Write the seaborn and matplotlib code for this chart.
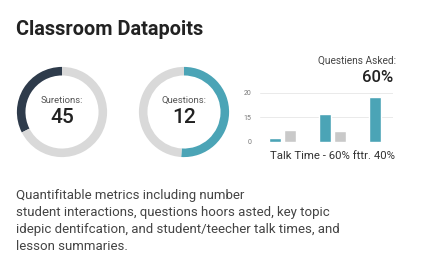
import matplotlib
matplotlib.use("Agg")
import matplotlib.pyplot as plt
import seaborn as sns
import pandas as pd
import numpy as np

# ---- data ----
donut_labels = ["Suretions:", "Questions:"]
donut_values = ["45", "12"]
donut_fractions = [0.325, 0.51]

bar_categories = ["A", "B", "C"]
teal_values = [1.6, 11.4, 18.4]
grey_values = [4.9, 4.5, np.nan]
ytick_positions = [0, 10, 20]
ytick_labels = ["0", "15", "20"]

title = "Classroom Datapoits"
chart_title = "Questiens Asked:"
chart_value = "60%"
chart_footer = "Talk Time - 60% fttr. 40%"
description = [
    "Quantifitable metrics including number",
    "student interactions, questions hoors asted, key topic",
    "idepic dentifcation, and student/teecher talk times, and",
    "lesson summaries.",
]

# ---- style ----
sns.set_theme(style="white")
plt.rcParams["font.family"] = ["Roboto", "DejaVu Sans"]

W, H = 424, 279
fig = plt.figure(figsize=(W / 100, H / 100), dpi=100)
fig.patch.set_facecolor("white")

def fx(x):
    return x / W

def fy(y):
    return 1 - y / H

def box(left, top, w, h):
    return [left / W, 1 - (top + h) / H, w / W, h / H]

DARK = "#2e3b4b"
TEAL = "#4ba4b6"
LIGHT = "#d9d9d9"

# title
fig.text(fx(16), fy(35), title, fontsize=14.3, fontweight="bold",
         color="#222222", va="baseline", ha="left")

# donuts
donut_specs = [
    (62, 112, DARK, True),
    (184, 112, TEAL, False),
]
R = 46
for (cx, cy, col, ccw), frac, lab, val in zip(donut_specs, donut_fractions,
                                              donut_labels, donut_values):
    ax = fig.add_axes(box(cx - R, cy - R, 2 * R, 2 * R))
    ax.pie([frac, 1 - frac], colors=[col, LIGHT], startangle=90,
           counterclock=ccw, radius=1.0,
           wedgeprops=dict(width=0.19, edgecolor="none"))
    ax.set_xlim(-1.02, 1.02)
    ax.set_ylim(-1.02, 1.02)
    ax.set_aspect("equal")
    ax.axis("off")
    ax.text(0, 0.26, lab, ha="center", va="center", fontsize=6.8,
            color="#555555")
    ax.text(0, -0.13, val, ha="center", va="center", fontsize=15,
            color="#222222", fontweight="medium")

# bar chart
df = pd.DataFrame({
    "cat": bar_categories * 2,
    "series": ["teal"] * 3 + ["grey"] * 3,
    "value": teal_values + grey_values,
})
bax = fig.add_axes(box(260, 90.5, 133, 51.5))
sns.barplot(data=df, x="cat", y="value", hue="series",
            palette={"teal": TEAL, "grey": "#c9c9c9"},
            width=0.6, gap=0.2, ax=bax, legend=False, saturation=1)
bax.set_xlim(-0.46, 2.22)
bax.set_ylim(0, 21)
bax.set_yticks(ytick_positions)
bax.set_yticklabels(ytick_labels, fontsize=5, color="#777777")
bax.set_xticks([])
bax.set_xlabel("")
bax.set_ylabel("")
bax.grid(axis="y", color="#e6e6e6", linewidth=0.6)
bax.set_axisbelow(True)
bax.tick_params(axis="y", length=0, pad=6)
for s in bax.spines.values():
    s.set_visible(False)
bax.patch.set_alpha(0)

fig.text(fx(357), fy(61), chart_title, ha="center", va="center",
         fontsize=7.3, color="#444444")
fig.text(fx(393), fy(78), chart_value, ha="right", va="center",
         fontsize=12, color="#222222", fontweight="medium")
fig.text(fx(270), fy(156), chart_footer, ha="left", va="center",
         fontsize=8.2, color="#333333")

# description
for i, line in enumerate(description):
    fig.text(fx(16), fy(199 + 17 * i), line, ha="left", va="baseline",
             fontsize=9.5, color="#444444")

fig.savefig("out.png", dpi=100, facecolor="white")
